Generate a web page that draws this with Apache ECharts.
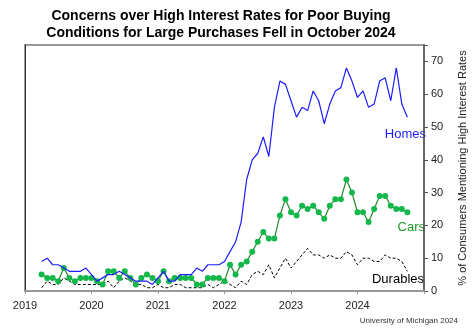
<!DOCTYPE html>
<html>
<head>
<meta charset="utf-8">
<script src="https://cdn.jsdelivr.net/npm/echarts@6/dist/echarts.min.js"></script>
<style>
  html, body { margin: 0; padding: 0; background: #fff; }
  #chart { width: 476px; height: 330px; }
</style>
</head>
<body>
<div id="chart"></div>
<script>
// Monthly survey readings, April 2019 through October 2024
const startYear = 2019;
const startMonth = 4;
const yearTicks = [2019, 2020, 2021, 2022, 2023, 2024];

const homes = [
    9, 10, 8, 8, 7, 6, 6, 6, 7,
    5, 3, 4, 5, 5, 6, 5, 4, 3, 3, 3, 2,
    4, 6, 3, 3, 5, 5, 5, 7, 6, 8, 8, 8,
    9, 12, 15, 21, 34, 40, 42, 47, 41, 56, 64, 63,
    58, 53, 56, 55, 61, 58, 51, 57, 61, 62, 68, 64,
    59, 61, 56, 57, 64, 65, 58, 68, 57, 53
];
const cars = [
    5, 4, 4, 3, 7, 4, 3, 4, 4,
    4, 3, 2, 6, 6, 4, 6, 4, 2, 4, 5, 4,
    3, 6, 3, 4, 4, 4, 4, 2, 2, 4, 4, 4,
    3, 8, 5, 8, 9, 12, 15, 18, 16, 16, 23, 28,
    24, 23, 26, 25, 26, 24, 22, 26, 28, 28, 34, 30,
    24, 24, 21, 25, 29, 29, 26, 25, 25, 24
];
const durables = [
    1, 3, 2, 2, 4, 3, 2, 2, 2,
    2, 2, 2, 3, 1, 3, 4, 3, 2, 2, 1, 1,
    2, 1, 1, 2, 2, 1, 1, 1, 1, 2, 1, 2,
    3, 2, 1, 3, 2, 5, 6, 5, 8, 4, 7, 10,
    7, 9, 11, 13, 11, 11, 10, 11, 10, 10, 12, 11,
    8, 10, 10, 9, 9, 11, 10, 10, 9, 6
];

const toPoints = function (values) {
    return values.map(function (v, i) {
        const m = startMonth - 1 + i;
        return [startYear + m / 12, v];
    });
};

const chart = echarts.init(document.getElementById('chart'));
chart.setOption({
    animation: false,
    title: {
        text: 'Concerns over High Interest Rates for Poor Buying\nConditions for Large Purchases Fell in October 2024',
        left: 216,
        textAlign: 'center',
        top: 3,
        textStyle: {
            fontFamily: 'Liberation Sans',
            fontSize: 14,
            fontWeight: 'bold',
            color: '#000',
            lineHeight: 17
        }
    },
    grid: {
        left: 25,
        right: 45,
        top: 45,
        bottom: 39,
        show: true,
        borderColor: '#999',
        borderWidth: 2
    },
    xAxis: {
        type: 'value',
        min: 2019,
        max: 2025,
        interval: 1,
        splitLine: { show: false },
        axisLine: { lineStyle: { color: '#999', width: 2 } },
        axisTick: { show: true, length: 3, lineStyle: { color: '#999' } },
        axisLabel: {
            fontFamily: 'Liberation Sans',
            fontSize: 11,
            color: '#222',
            margin: 9,
            formatter: function (v) {
                return yearTicks.indexOf(v) >= 0 ? String(v) : '';
            }
        }
    },
    yAxis: [{
        type: 'value',
        position: 'right',
        min: 0,
        max: 75,
        interval: 10,
        splitLine: { show: false },
        axisLine: { show: true, lineStyle: { color: '#555', width: 1.5 } },
        axisTick: { show: true, length: 4, lineStyle: { color: '#555' } },
        axisLabel: {
            fontFamily: 'Liberation Sans',
            fontSize: 11,
            color: '#222',
            margin: 7,
            formatter: function (v) {
                return v % 10 === 0 ? String(v) : '';
            }
        },
        name: '% of Consumers Mentioning High Interest Rates',
        nameLocation: 'middle',
        nameRotate: 90,
        nameGap: 33,
        nameTextStyle: {
            fontFamily: 'Liberation Sans',
            fontSize: 11,
            color: '#222'
        }
    }, {
        type: 'value',
        position: 'left',
        min: 0,
        max: 75,
        show: true,
        splitLine: { show: false },
        axisLine: { show: true, lineStyle: { color: '#333', width: 1 } },
        axisTick: { show: false },
        axisLabel: { show: false }
    }],
    series: [{
        name: 'Homes',
        type: 'line',
        data: toPoints(homes),
        showSymbol: false,
        lineStyle: { color: '#1c1cff', width: 1.2 },
        z: 3
    }, {
        name: 'Cars',
        type: 'line',
        data: toPoints(cars),
        symbol: 'circle',
        symbolSize: 6,
        itemStyle: { color: '#14b84a' },
        lineStyle: { color: '#1f8a2a', width: 1.2 },
        z: 2
    }, {
        name: 'Durables',
        type: 'line',
        data: toPoints(durables),
        showSymbol: false,
        lineStyle: { color: '#000', width: 1, type: [3, 2] },
        z: 1
    }],
    graphic: [{
        type: 'text',
        right: 50,
        top: 128,
        style: { text: 'Homes', fill: '#1c1cff', font: '13px Liberation Sans' }
    }, {
        type: 'text',
        right: 51,
        top: 221,
        style: { text: 'Cars', fill: '#1f9a2a', font: '13px Liberation Sans' }
    }, {
        type: 'text',
        right: 52,
        top: 273,
        style: { text: 'Durables', fill: '#000', font: '13px Liberation Sans' }
    }, {
        type: 'text',
        right: 18,
        top: 317,
        style: { text: 'University of Michigan 2024', fill: '#333', font: '8px Liberation Sans' }
    }]
});
</script>
</body>
</html>
